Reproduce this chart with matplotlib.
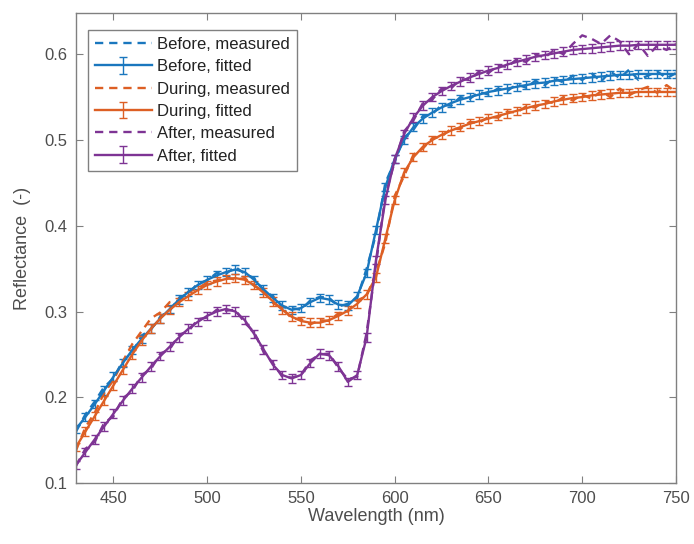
import matplotlib
matplotlib.use("Agg")
import matplotlib.pyplot as plt
import numpy as np

plt.rcParams['font.family'] = ['Liberation Sans', 'DejaVu Sans']

wavelength = list(range(430, 751, 5))

before_fit = [0.163, 0.177, 0.192, 0.208, 0.224, 0.240, 0.255, 0.268, 0.280, 0.292, 0.303, 0.314, 0.323, 0.331,
              0.337, 0.342, 0.346, 0.349, 0.346, 0.337, 0.326, 0.316, 0.307, 0.302, 0.304, 0.311, 0.316, 0.314,
              0.308, 0.307, 0.318, 0.345, 0.395, 0.445, 0.478, 0.500, 0.515, 0.525, 0.532, 0.538, 0.543, 0.547,
              0.550, 0.553, 0.556, 0.558, 0.560, 0.562, 0.564, 0.566, 0.567, 0.569, 0.570, 0.571, 0.572, 0.573,
              0.574, 0.575, 0.576, 0.576, 0.577, 0.577, 0.577, 0.577, 0.577]
before_meas = [0.160, 0.180, 0.195, 0.212, 0.222, 0.243, 0.252, 0.272, 0.279, 0.294, 0.301, 0.316, 0.321, 0.333,
               0.336, 0.345, 0.344, 0.352, 0.344, 0.339, 0.324, 0.318, 0.305, 0.304, 0.302, 0.313, 0.317, 0.316,
               0.306, 0.309, 0.316, 0.350, 0.390, 0.450, 0.475, 0.503, 0.512, 0.528, 0.530, 0.541, 0.540, 0.550,
               0.548, 0.556, 0.553, 0.560, 0.557, 0.565, 0.561, 0.569, 0.564, 0.572, 0.567, 0.575, 0.570, 0.578,
               0.568, 0.580, 0.572, 0.582, 0.570, 0.575, 0.580, 0.572, 0.578]

during_fit = [0.142, 0.160, 0.178, 0.196, 0.214, 0.232, 0.250, 0.266, 0.280, 0.292, 0.302, 0.311, 0.318, 0.325,
              0.331, 0.335, 0.338, 0.339, 0.337, 0.331, 0.322, 0.312, 0.302, 0.294, 0.289, 0.287, 0.287, 0.290,
              0.295, 0.301, 0.309, 0.320, 0.340, 0.385, 0.430, 0.462, 0.480, 0.492, 0.500, 0.506, 0.511, 0.515,
              0.519, 0.522, 0.525, 0.528, 0.531, 0.534, 0.537, 0.540, 0.542, 0.545, 0.547, 0.549, 0.550, 0.552,
              0.553, 0.554, 0.555, 0.555, 0.556, 0.556, 0.556, 0.556, 0.556]
during_meas = [0.138, 0.165, 0.182, 0.205, 0.220, 0.242, 0.262, 0.277, 0.292, 0.299, 0.311, 0.313, 0.323, 0.327,
               0.334, 0.336, 0.340, 0.337, 0.339, 0.330, 0.324, 0.310, 0.304, 0.292, 0.291, 0.285, 0.290, 0.289,
               0.298, 0.300, 0.313, 0.318, 0.345, 0.380, 0.435, 0.458, 0.483, 0.490, 0.502, 0.504, 0.513, 0.513,
               0.521, 0.520, 0.527, 0.526, 0.533, 0.532, 0.539, 0.538, 0.545, 0.543, 0.550, 0.546, 0.553, 0.548,
               0.557, 0.550, 0.560, 0.552, 0.558, 0.562, 0.555, 0.564, 0.556]

after_fit = [0.121, 0.136, 0.151, 0.166, 0.181, 0.196, 0.210, 0.223, 0.236, 0.248, 0.259, 0.270, 0.280, 0.288,
             0.295, 0.300, 0.303, 0.300, 0.290, 0.274, 0.256, 0.238, 0.226, 0.222, 0.226, 0.240, 0.251, 0.249,
             0.236, 0.218, 0.226, 0.270, 0.360, 0.430, 0.478, 0.507, 0.526, 0.540, 0.550, 0.557, 0.563, 0.568,
             0.573, 0.577, 0.581, 0.584, 0.588, 0.591, 0.594, 0.597, 0.599, 0.601, 0.603, 0.605, 0.606, 0.607,
             0.608, 0.609, 0.610, 0.610, 0.611, 0.611, 0.611, 0.611, 0.611]
after_meas = [0.120, 0.140, 0.148, 0.170, 0.178, 0.199, 0.207, 0.226, 0.233, 0.251, 0.256, 0.273, 0.277, 0.291,
              0.293, 0.302, 0.301, 0.302, 0.287, 0.276, 0.253, 0.240, 0.224, 0.223, 0.226, 0.243, 0.250, 0.251,
              0.234, 0.221, 0.224, 0.275, 0.355, 0.435, 0.475, 0.510, 0.523, 0.543, 0.547, 0.560, 0.560, 0.571,
              0.570, 0.580, 0.578, 0.587, 0.585, 0.594, 0.591, 0.600, 0.596, 0.605, 0.600, 0.612, 0.622, 0.618,
              0.612, 0.622, 0.615, 0.600, 0.612, 0.598, 0.610, 0.605, 0.612]

fit_err = 0.005

series_names = ["Before", "During", "After"]
colors = ["#1A77BE", "#DD5F24", "#7E3494"]
measured = [before_meas, during_meas, after_meas]
fitted = [before_fit, during_fit, after_fit]

fig = plt.figure(figsize=(6.94, 5.44), dpi=100)
ax = fig.add_axes([0.1095, 0.112, 0.8645, 0.864])

handles = []
labels = []
for name, c, m, f in zip(series_names, colors, measured, fitted):
    h1, = ax.plot(wavelength, m, linestyle=(0, (3.5, 2.5)), color=c, lw=1.7)
    h2 = ax.errorbar(wavelength, f, yerr=fit_err, color=c, lw=1.7, elinewidth=1.0,
                     capsize=2.8, capthick=1.0)
    handles += [h1, h2]
    labels += [f"{name}, measured", f"{name}, fitted"]

ax.set_xlim(430, 750)
ax.set_ylim(0.1, 0.648)
ax.set_xticks([450, 500, 550, 600, 650, 700, 750])
ax.set_yticks([0.1, 0.2, 0.3, 0.4, 0.5, 0.6])
ax.set_yticklabels(["0.1", "0.2", "0.3", "0.4", "0.5", "0.6"])
gray = "#4d4d4d"
ax.tick_params(direction='in', top=True, right=True, length=5, width=0.8,
               colors='#808080', labelcolor=gray, labelsize=12, pad=6)
for s in ax.spines.values():
    s.set_color('#808080')
    s.set_linewidth(1.0)

ax.set_xlabel("Wavelength (nm)", fontsize=13, color=gray, labelpad=1)
ax.set_ylabel("Reflectance  (-)", fontsize=13, color=gray, labelpad=10)

leg = ax.legend(handles, labels, loc='upper left', bbox_to_anchor=(0.02, 0.964), fontsize=12,
                frameon=True, fancybox=False, edgecolor='#808080', framealpha=1,
                handlelength=3.4, handletextpad=0.3, borderpad=0.42, labelspacing=0.44,
                borderaxespad=0.0)
leg.get_frame().set_linewidth(1.0)
for t in leg.get_texts():
    t.set_color('#222222')

fig.savefig("out.png", dpi=100)
